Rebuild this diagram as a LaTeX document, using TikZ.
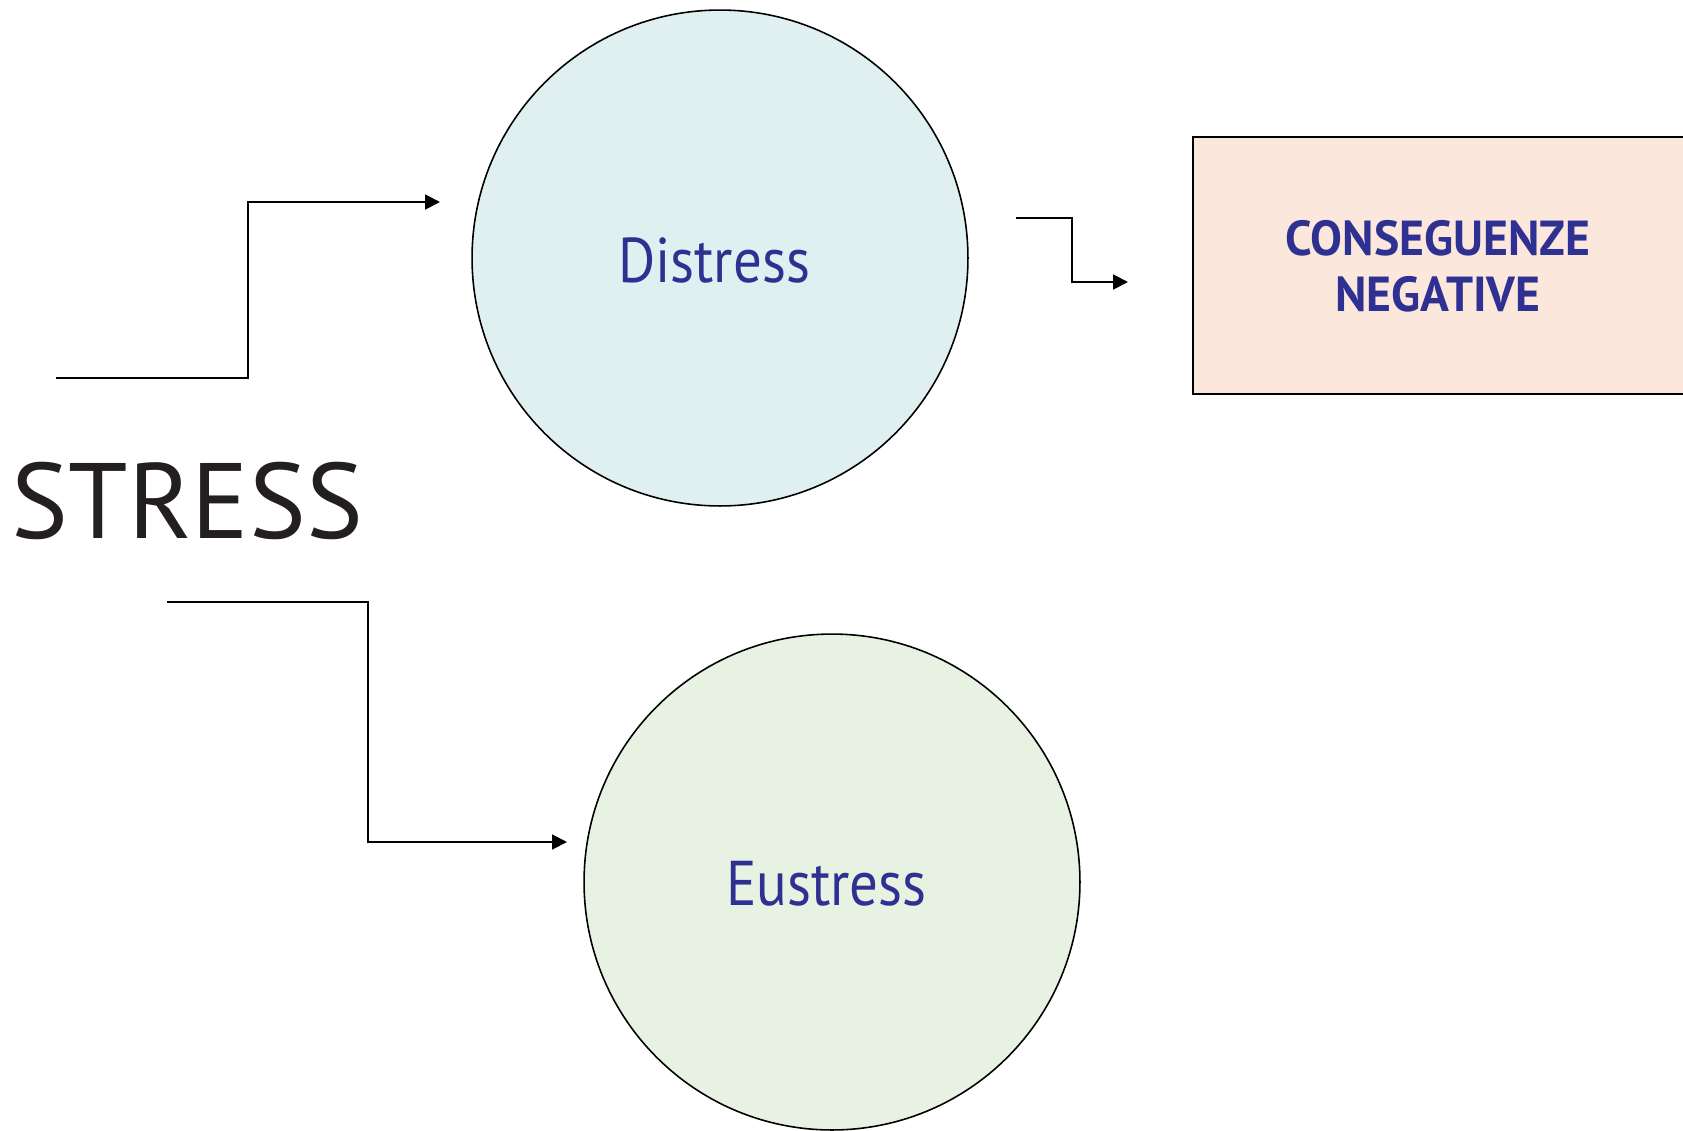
\documentclass[tikz,border=0pt]{standalone}
\usepackage{fontspec}
\setmainfont{PT Sans}
\usepackage{tikz}
\usetikzlibrary{arrows.meta}

\definecolor{txtblue}{HTML}{2E3192}
\definecolor{distfill}{HTML}{E0F0F0}
\definecolor{eufill}{HTML}{E7F2E3}
\definecolor{boxfill}{HTML}{FCE7DD}
\definecolor{stressgray}{HTML}{231F20}

\begin{document}
\begin{tikzpicture}
  [x=0.02cm,y=-0.02cm,line width=1.1pt,
   bubble/.style={circle,draw,inner sep=0pt,minimum size=9.92cm,line width=0.9pt},
   label/.style={text=txtblue,font=\fontsize{36}{40}\selectfont,anchor=base},
   link/.style={-{Triangle[length=8.5pt,width=8.5pt]}}]
  \clip (0,0) rectangle (1683,1130);

  \node [bubble,fill=distfill] (distress) at (720,258) {};
  \node [bubble,fill=eufill] (eustress) at (832,882) {};
  \node [draw,fill=boxfill,anchor=west,minimum width=11.6cm,minimum height=5.14cm,line width=0.9pt] (conseq) at (1192,265.5) {};

  \node [anchor=base,text=stressgray,font=\fontsize{61}{64}\selectfont] (stress) at (187.5,538) {STRESS};
  \node [label] (dlabel) at (714,282) {\scalebox{0.9}[1]{Distress}};
  \node [label] (elabel) at (826.5,905) {\scalebox{0.9}[1]{Eustress}};
  \node [text=txtblue,font=\fontsize{28}{34}\selectfont\bfseries,align=center] (clabel) at (1438,266)
    {\scalebox{0.97}[1]{CONSEGUENZE}\\[-2pt]\scalebox{0.97}[1]{NEGATIVE}};

  \coordinate (a1) at (56,378);   \coordinate (b1) at (248,202);  \coordinate (c1) at (440,202);
  \coordinate (a2) at (167,602);  \coordinate (b2) at (368,842);  \coordinate (c2) at (567,842);
  \coordinate (a3) at (1016,218); \coordinate (b3) at (1072,282); \coordinate (c3) at (1128,282);

  \foreach \from/\via/\to in {a1/b1/c1,a2/b2/c2,a3/b3/c3}
    \draw [link] (\from) -| (\via) -- (\to);

\end{tikzpicture}
\end{document}
